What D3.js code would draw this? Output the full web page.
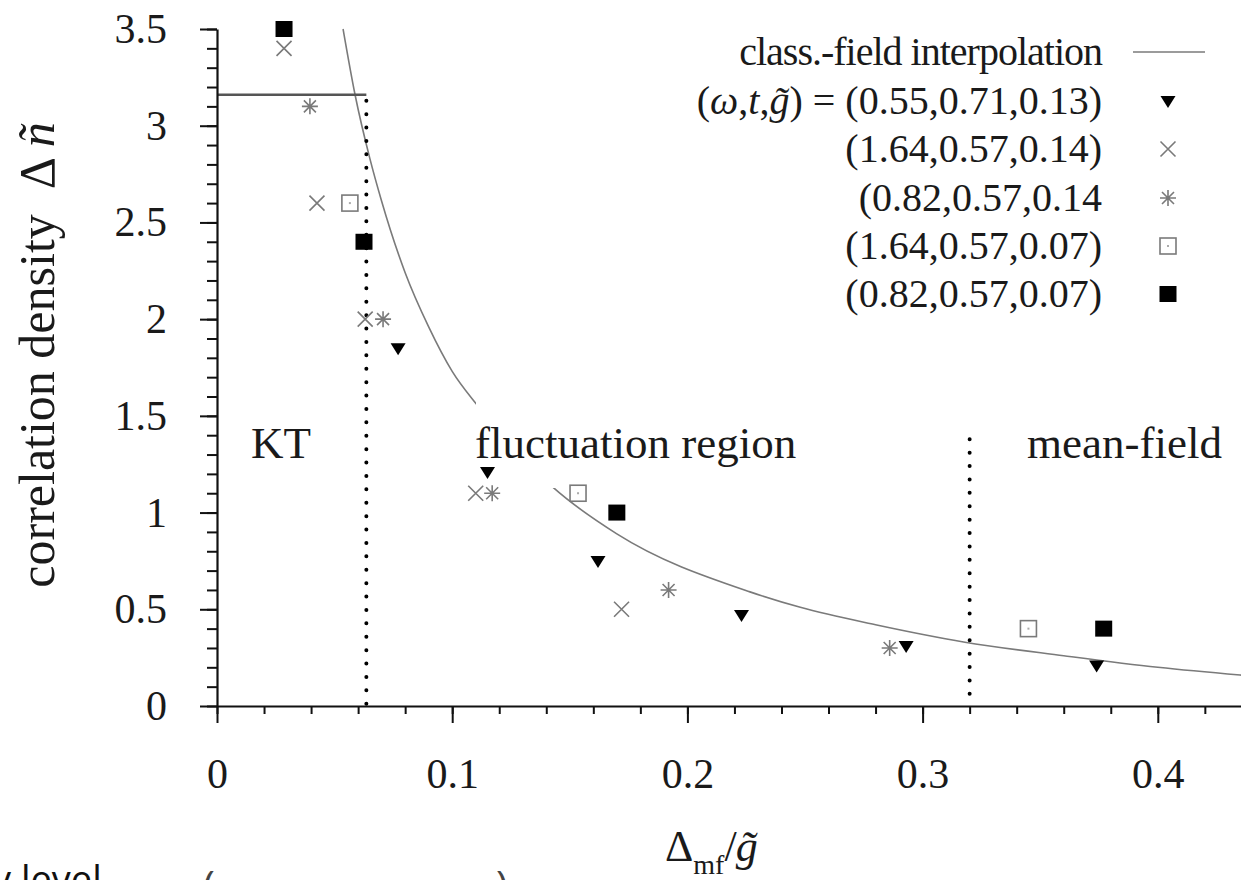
<!DOCTYPE html>
<html>
<head>
<meta charset="utf-8">
<script src="https://cdn.jsdelivr.net/npm/d3@7/dist/d3.min.js"></script>
<style>
  html, body { margin: 0; padding: 0; background: #fff; }
  svg { display: block; }
  text { font-family: "Liberation Serif", "Times New Roman", serif; fill: #1a1a1a; }
</style>
</head>
<body>
<svg id="chart" width="1241" height="880"></svg>
<script>
// ---- data -------------------------------------------------------------
// (omega, t, g) = (0.55, 0.71, 0.13)  filled down-triangles
const triX = [0.077, 0.115, 0.162, 0.223, 0.293, 0.374];
const triY = [1.85, 1.21, 0.75, 0.47, 0.31, 0.21];
// (1.64, 0.57, 0.14)  crosses
const crossX = [0.0285, 0.0425, 0.063, 0.110, 0.172];
const crossY = [3.40, 2.60, 2.00, 1.10, 0.50];
// (0.82, 0.57, 0.14)  asterisks
const starX = [0.0395, 0.0706, 0.117, 0.192, 0.286];
const starY = [3.10, 2.00, 1.10, 0.60, 0.30];
// (1.64, 0.57, 0.07)  open squares
const openSqX = [0.0565, 0.1535, 0.345];
const openSqY = [2.60, 1.10, 0.40];
// (0.82, 0.57, 0.07)  filled squares
const fillSqX = [0.0285, 0.0625, 0.170, 0.377];
const fillSqY = [3.50, 2.40, 1.00, 0.40];

// classical-field interpolation curve
const curveX = [0.0536, 0.0587, 0.065, 0.070, 0.080, 0.090, 0.100, 0.111, 0.1429, 0.170, 0.2266, 0.248, 0.280, 0.318, 0.360, 0.400, 0.435, 0.450];
const curveY = [3.50, 3.16, 2.83, 2.61, 2.24, 1.96, 1.73, 1.55, 1.13, 0.89, 0.59, 0.51, 0.42, 0.33, 0.26, 0.20, 0.16, 0.145];

// KT plateau and region boundaries
const ktLevel = 3.16;
const ktBoundary = 0.0635;
const mfBoundary = 0.32;
const mfBoundaryTop = 1.41;

// ticks
const xMajor = [0, 0.1, 0.2, 0.3, 0.4];
const xMajorLabels = ["0", "0.1", "0.2", "0.3", "0.4"];
const yMajor = [0, 0.5, 1, 1.5, 2, 2.5, 3, 3.5];
const yMajorLabels = ["0", "0.5", "1", "1.5", "2", "2.5", "3", "3.5"];

const legendLabels = [
  "(0.55,0.71,0.13)",
  "(1.64,0.57,0.14)",
  "(0.82,0.57,0.14",
  "(1.64,0.57,0.07)",
  "(0.82,0.57,0.07)"
];

// ---- layout -----------------------------------------------------------
const svg = d3.select("#chart");
const x = d3.scaleLinear().domain([0, 0.45]).range([217, 217 + 0.45 * 2352]);
const y = d3.scaleLinear().domain([0, 3.5]).range([706, 29]);

const gray = "#7a7a7a";

// ---- marker shapes ----------------------------------------------------
function drawMarker(g, kind, cx, cy) {
  if (kind === "tri") {
    g.append("path")
      .attr("d", `M${cx - 7.5},${cy - 5} L${cx + 7.5},${cy - 5} L${cx},${cy + 7} Z`)
      .attr("fill", "#000");
  } else if (kind === "cross") {
    const r = 7.5;
    g.append("path")
      .attr("d", `M${cx - r},${cy - r} L${cx + r},${cy + r} M${cx - r},${cy + r} L${cx + r},${cy - r}`)
      .attr("stroke", gray).attr("stroke-width", 1.6).attr("fill", "none");
  } else if (kind === "star") {
    const r = 8, d = 6;
    g.append("path")
      .attr("d", `M${cx - r},${cy} L${cx + r},${cy} M${cx},${cy - r} L${cx},${cy + r} ` +
                 `M${cx - d},${cy - d} L${cx + d},${cy + d} M${cx - d},${cy + d} L${cx + d},${cy - d}`)
      .attr("stroke", gray).attr("stroke-width", 1.6).attr("fill", "none");
  } else if (kind === "open") {
    g.append("rect")
      .attr("x", cx - 8).attr("y", cy - 8).attr("width", 16).attr("height", 16)
      .attr("fill", "#fff").attr("stroke", gray).attr("stroke-width", 1.6);
    g.append("rect")
      .attr("x", cx - 1).attr("y", cy - 1).attr("width", 2).attr("height", 2)
      .attr("fill", "#aaa");
  } else if (kind === "fill") {
    g.append("rect")
      .attr("x", cx - 8.5).attr("y", cy - 8).attr("width", 17).attr("height", 16)
      .attr("fill", "#000");
  }
}

// ---- interpolation curve ---------------------------------------------
const curvePts = curveX.map((v, i) => [v, curveY[i]]);
svg.append("path")
  .datum(curvePts)
  .attr("d", d3.line().x(d => x(d[0])).y(d => y(d[1])).curve(d3.curveMonotoneX))
  .attr("fill", "none").attr("stroke", gray).attr("stroke-width", 1.6);

// KT plateau
svg.append("line")
  .attr("x1", x(0)).attr("x2", x(ktBoundary))
  .attr("y1", y(ktLevel)).attr("y2", y(ktLevel))
  .attr("stroke", "#555").attr("stroke-width", 2.4);

// region boundaries (dotted)
[[ktBoundary, ktLevel], [mfBoundary, mfBoundaryTop]].forEach(([bx, top]) => {
  svg.append("line")
    .attr("x1", x(bx)).attr("x2", x(bx))
    .attr("y1", y(top) + 6).attr("y2", y(0))
    .attr("stroke", "#000").attr("stroke-width", 4)
    .attr("stroke-linecap", "round")
    .attr("stroke-dasharray", "0 13.4");
});

// region labels (opaque background behind the middle one)
svg.append("rect")
  .attr("x", 476).attr("y", 400).attr("width", 330).attr("height", 88)
  .attr("fill", "#fff");
const regionFont = 45;
svg.append("text").attr("x", 251).attr("y", 458).attr("font-size", regionFont).text("KT");
svg.append("text").attr("x", 475).attr("y", 458).attr("font-size", regionFont).text("fluctuation region");
svg.append("text").attr("x", 1222).attr("y", 458).attr("font-size", regionFont)
  .attr("text-anchor", "end").text("mean-field");

// ---- axes -------------------------------------------------------------
const axisColor = "#111";
// x axis
const gx = svg.append("g").attr("transform", `translate(0,${y(0)})`);
gx.call(d3.axisBottom(x).tickValues(d3.range(0, 0.4501, 0.02)).tickSize(8).tickFormat(""));
gx.call(g => g.select(".domain").remove());
const gx2 = svg.append("g").attr("transform", `translate(0,${y(0)})`)
  .call(d3.axisBottom(x).tickValues(xMajor).tickSize(17).tickSizeOuter(0)
    .tickFormat((d, i) => xMajorLabels[i]).tickPadding(40));
[gx, gx2].forEach(g => {
  g.selectAll(".tick line").attr("stroke", axisColor).attr("stroke-width", 2);
  g.selectAll(".domain").attr("stroke", axisColor).attr("stroke-width", 2.2);
});
gx2.selectAll(".tick text")
  .attr("font-family", "Liberation Serif, serif").attr("font-size", 42)
  .attr("fill", "#1a1a1a").attr("dy", "0.71em").attr("y", 52);

// y axis
const gy = svg.append("g").attr("transform", `translate(${x(0)},0)`);
gy.call(d3.axisLeft(y).tickValues(d3.range(0, 3.5001, 0.1)).tickSize(10).tickFormat(""));
gy.call(g => g.select(".domain").remove());
const gy2 = svg.append("g").attr("transform", `translate(${x(0)},0)`)
  .call(d3.axisLeft(y).tickValues(yMajor).tickSize(17).tickSizeOuter(0)
    .tickFormat((d, i) => yMajorLabels[i]).tickPadding(33));
[gy, gy2].forEach(g => {
  g.selectAll(".tick line").attr("stroke", axisColor).attr("stroke-width", 2);
  g.selectAll(".domain").attr("stroke", axisColor).attr("stroke-width", 2.2);
});
gy2.selectAll(".tick text")
  .attr("font-family", "Liberation Serif, serif").attr("font-size", 42)
  .attr("fill", "#1a1a1a");

// axis titles
const yTitle = svg.append("text")
  .attr("transform", "translate(54,355) rotate(-90)")
  .attr("text-anchor", "middle").attr("font-size", 50);
yTitle.append("tspan").text("correlation density\u2002\u0394 ");
yTitle.append("tspan").attr("font-style", "italic").text("\u00f1");

const xTitle = svg.append("text").attr("x", 665).attr("y", 861).attr("font-size", 44);
xTitle.append("tspan").text("\u0394");
xTitle.append("tspan").attr("font-size", 28).attr("dy", 13).text("mf");
xTitle.append("tspan").attr("dy", -13).text("/");
xTitle.append("tspan").attr("font-style", "italic").attr("dx", -1).text("g\u0303");

// ---- data points ------------------------------------------------------
const series = [
  { kind: "tri", xs: triX, ys: triY },
  { kind: "cross", xs: crossX, ys: crossY },
  { kind: "star", xs: starX, ys: starY },
  { kind: "open", xs: openSqX, ys: openSqY },
  { kind: "fill", xs: fillSqX, ys: fillSqY }
];
const gPts = svg.append("g");
series.forEach(s => {
  s.xs.forEach((v, i) => drawMarker(gPts, s.kind, x(v), y(s.ys[i])));
});

// ---- legend -----------------------------------------------------------
const legFont = 40;
const legRight = 1102, legMarkX = 1168;
const legRowY = [52, 101, 149, 198, 246, 294];
svg.append("text").attr("x", legRight).attr("y", legRowY[0] + 13)
  .attr("text-anchor", "end").attr("font-size", legFont)
  .attr("letter-spacing", -1).text("class.-field interpolation");
svg.append("line").attr("x1", 1133).attr("x2", 1205)
  .attr("y1", legRowY[0]).attr("y2", legRowY[0])
  .attr("stroke", gray).attr("stroke-width", 1.6);

const firstRow = svg.append("text").attr("x", legRight).attr("y", legRowY[1] + 13)
  .attr("text-anchor", "end").attr("font-size", legFont);
firstRow.append("tspan").text("(");
firstRow.append("tspan").attr("font-style", "italic").text("\u03c9");
firstRow.append("tspan").text(",");
firstRow.append("tspan").attr("font-style", "italic").text("t");
firstRow.append("tspan").text(",");
firstRow.append("tspan").attr("font-style", "italic").text("g\u0303");
firstRow.append("tspan").text(") = " + legendLabels[0]);

legendLabels.slice(1).forEach((lab, i) => {
  svg.append("text").attr("x", legRight).attr("y", legRowY[i + 2] + 13)
    .attr("text-anchor", "end").attr("font-size", legFont).text(lab);
});
series.forEach((s, i) => drawMarker(svg, s.kind, legMarkX, legRowY[i + 1]));

// ---- slide text below the figure -------------------------------------
const slide = svg.append("g");
slide.append("text").attr("x", -8).attr("y", 893).attr("font-size", 38)
  .style("font-family", "'Open Sans', sans-serif").style("fill", "#111").text("y level");
slide.append("text").attr("x", 203).attr("y", 900).attr("font-size", 40)
  .style("font-family", "'Open Sans', sans-serif").style("fill", "#444").text("(");
slide.append("text").attr("x", 496).attr("y", 900).attr("font-size", 40)
  .style("font-family", "'Open Sans', sans-serif").style("fill", "#444").text(")");
</script>
</body>
</html>
